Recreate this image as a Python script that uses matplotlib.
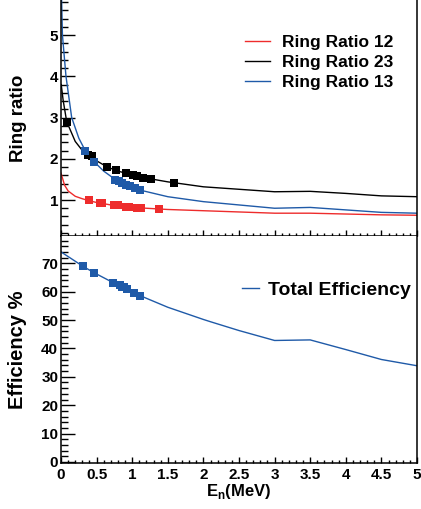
import matplotlib
matplotlib.use("Agg")
import matplotlib.pyplot as plt
from matplotlib.ticker import MultipleLocator, NullFormatter, FormatStrFormatter

plt.rcParams['font.family'] = ['Liberation Sans', 'DejaVu Sans']
plt.rcParams['font.weight'] = 'bold'
plt.rcParams['mathtext.fontset'] = 'custom'
plt.rcParams['mathtext.rm'] = 'Liberation Sans:bold'
plt.rcParams['mathtext.bf'] = 'Liberation Sans:bold'

RED = "#ee2c2c"
BLUE = "#1f5aa8"
BLACK = "#000000"

# ring ratio curves (simulation)
r12_x = [0.0, 0.05, 0.1, 0.2, 0.3, 0.4, 0.5, 0.7, 1.0, 1.5, 2.0, 2.5, 3.0, 3.5, 4.0, 4.5, 5.0]
r12_y = [1.65, 1.36, 1.22, 1.09, 1.03, 0.98, 0.94, 0.88, 0.82, 0.77, 0.74, 0.71, 0.68, 0.68, 0.66, 0.64, 0.63]
r23_x = [0.003, 0.03, 0.08, 0.2, 0.3, 0.4, 0.5, 0.65, 0.8, 1.0, 1.2, 1.5, 2.0, 2.5, 3.0, 3.5, 4.0, 4.5, 5.0]
r23_y = [3.8, 3.42, 2.9, 2.42, 2.2, 2.07, 1.95, 1.8, 1.7, 1.61, 1.53, 1.44, 1.32, 1.26, 1.2, 1.21, 1.16, 1.1, 1.08]
r13_x = [0.008, 0.02, 0.07, 0.15, 0.25, 0.34, 0.47, 0.6, 0.76, 1.0, 1.11, 1.5, 2.0, 2.5, 3.0, 3.5, 4.0, 4.5, 5.0]
r13_y = [5.9, 5.0, 4.0, 3.0, 2.5, 2.2, 1.92, 1.7, 1.5, 1.31, 1.24, 1.08, 0.96, 0.88, 0.8, 0.82, 0.76, 0.7, 0.68]

# measured points
m12_x = [0.39, 0.55, 0.57, 0.75, 0.80, 0.91, 0.95, 1.07, 1.12, 1.37]
m12_y = [1.0, 0.93, 0.93, 0.88, 0.87, 0.84, 0.83, 0.81, 0.80, 0.77]
m23_x = [0.08, 0.38, 0.43, 0.65, 0.77, 0.91, 1.01, 1.07, 1.15, 1.27, 1.59]
m23_y = [2.9, 2.1, 2.06, 1.8, 1.73, 1.65, 1.61, 1.57, 1.54, 1.5, 1.42]
m13_x = [0.34, 0.47, 0.76, 0.81, 0.86, 0.91, 0.97, 1.04, 1.11]
m13_y = [2.2, 1.92, 1.49, 1.45, 1.41, 1.37, 1.33, 1.28, 1.24]

# efficiency
eff_x = [0.0, 0.31, 0.47, 0.73, 1.0, 1.11, 1.5, 2.0, 2.1, 2.5, 3.0, 3.5, 4.0, 4.5, 5.0]
eff_y = [74.0, 68.9, 66.6, 63.2, 59.8, 58.6, 54.5, 50.2, 49.4, 46.3, 42.8, 43.0, 39.6, 36.1, 33.9]
meff_x = [0.31, 0.47, 0.73, 0.83, 0.86, 0.88, 0.92, 1.02, 1.11]
meff_y = [68.9, 66.6, 63.2, 62.2, 61.8, 61.5, 61.0, 59.6, 58.6]

W, H = 421, 509
fig = plt.figure(figsize=(W / 100, H / 100), dpi=100)
ax1 = fig.add_axes([61 / W, 1 - 236 / H, 356 / W, 236 / H])
ax2 = fig.add_axes([61 / W, 1 - 462.7 / H, 356 / W, (462.7 - 236) / H])


def style(ax):
    for s in ax.spines.values():
        s.set_linewidth(1.1)
    ax.spines['top'].set_visible(False)
    ax.xaxis.set_major_locator(MultipleLocator(0.5))
    ax.xaxis.set_minor_locator(MultipleLocator(0.1))
    ax.xaxis.set_major_formatter(FormatStrFormatter('%g'))
    ax.tick_params(axis='x', which='major', direction='in', length=4, width=1, pad=4,
                   labelsize=11, top=False)
    ax.tick_params(axis='x', which='minor', direction='in', length=2, width=1, top=False)
    ax.tick_params(axis='y', which='major', direction='in', length=10, width=1, pad=2,
                   labelsize=11, right=False)
    ax.tick_params(axis='y', which='minor', direction='in', length=5, width=1, right=False)
    for lab in ax.get_xticklabels() + ax.get_yticklabels():
        lab.set_fontweight('bold')


# top panel
ax1.plot(r12_x, r12_y, color=RED, lw=1.0, label="Ring Ratio 12")
ax1.plot(r23_x, r23_y, color=BLACK, lw=1.0, label="Ring Ratio 23")
ax1.plot(r13_x, r13_y, color=BLUE, lw=1.0, label="Ring Ratio 13")
ax1.plot(m12_x, m12_y, 's', color=RED, ms=5.5, mew=0)
ax1.plot(m23_x, m23_y, 's', color=BLACK, ms=5.5, mew=0)
ax1.plot(m13_x, m13_y, 's', color=BLUE, ms=5.5, mew=0)
ax1.set_xlim(0, 5)
ax1.set_ylim(0.127, 5.85)
ax1.yaxis.set_major_locator(MultipleLocator(1))
ax1.yaxis.set_minor_locator(MultipleLocator(0.2))
style(ax1)
ax1.xaxis.set_major_formatter(NullFormatter())
ax1.set_ylabel("Ring ratio", fontsize=13.5, fontweight='bold')
ax1.yaxis.set_label_coords(-34 / 356, 0.5)
ax1.legend(loc='upper left', bbox_to_anchor=(184 / 356, 1 - 35 / 236), frameon=False,
           handlelength=1.45, handletextpad=0.7, labelspacing=0.27,
           borderpad=0, borderaxespad=0,
           prop={'weight': 'bold', 'size': 12.5})

# bottom panel
ax2.plot(eff_x, eff_y, color=BLUE, lw=1.0, label="Total Efficiency")
ax2.plot(meff_x, meff_y, 's', color=BLUE, ms=5.5, mew=0)
ax2.set_xlim(0, 5)
ax2.set_ylim(-0.25, 79.6)
ax2.yaxis.set_major_locator(MultipleLocator(10))
ax2.yaxis.set_minor_locator(MultipleLocator(2))
style(ax2)
ax2.set_ylabel("Efficiency %", fontsize=14.5, fontweight='bold')
ax2.yaxis.set_label_coords(-34 / 356, 0.5)
ax2.set_xlabel(r"E$_{\mathrm{n}}$(MeV)", fontsize=12, fontweight='bold')
ax2.xaxis.set_label_coords(1 - 178 / 356, -19.5 / 226.7)
ax2.legend(loc='upper left', bbox_to_anchor=(181 / 356, 1 - 45 / 226.7), frameon=False,
           handlelength=0.85, handletextpad=0.5, borderpad=0, borderaxespad=0,
           prop={'weight': 'bold', 'size': 14})

fig.savefig("out.png", dpi=100)
plt.close(fig)
